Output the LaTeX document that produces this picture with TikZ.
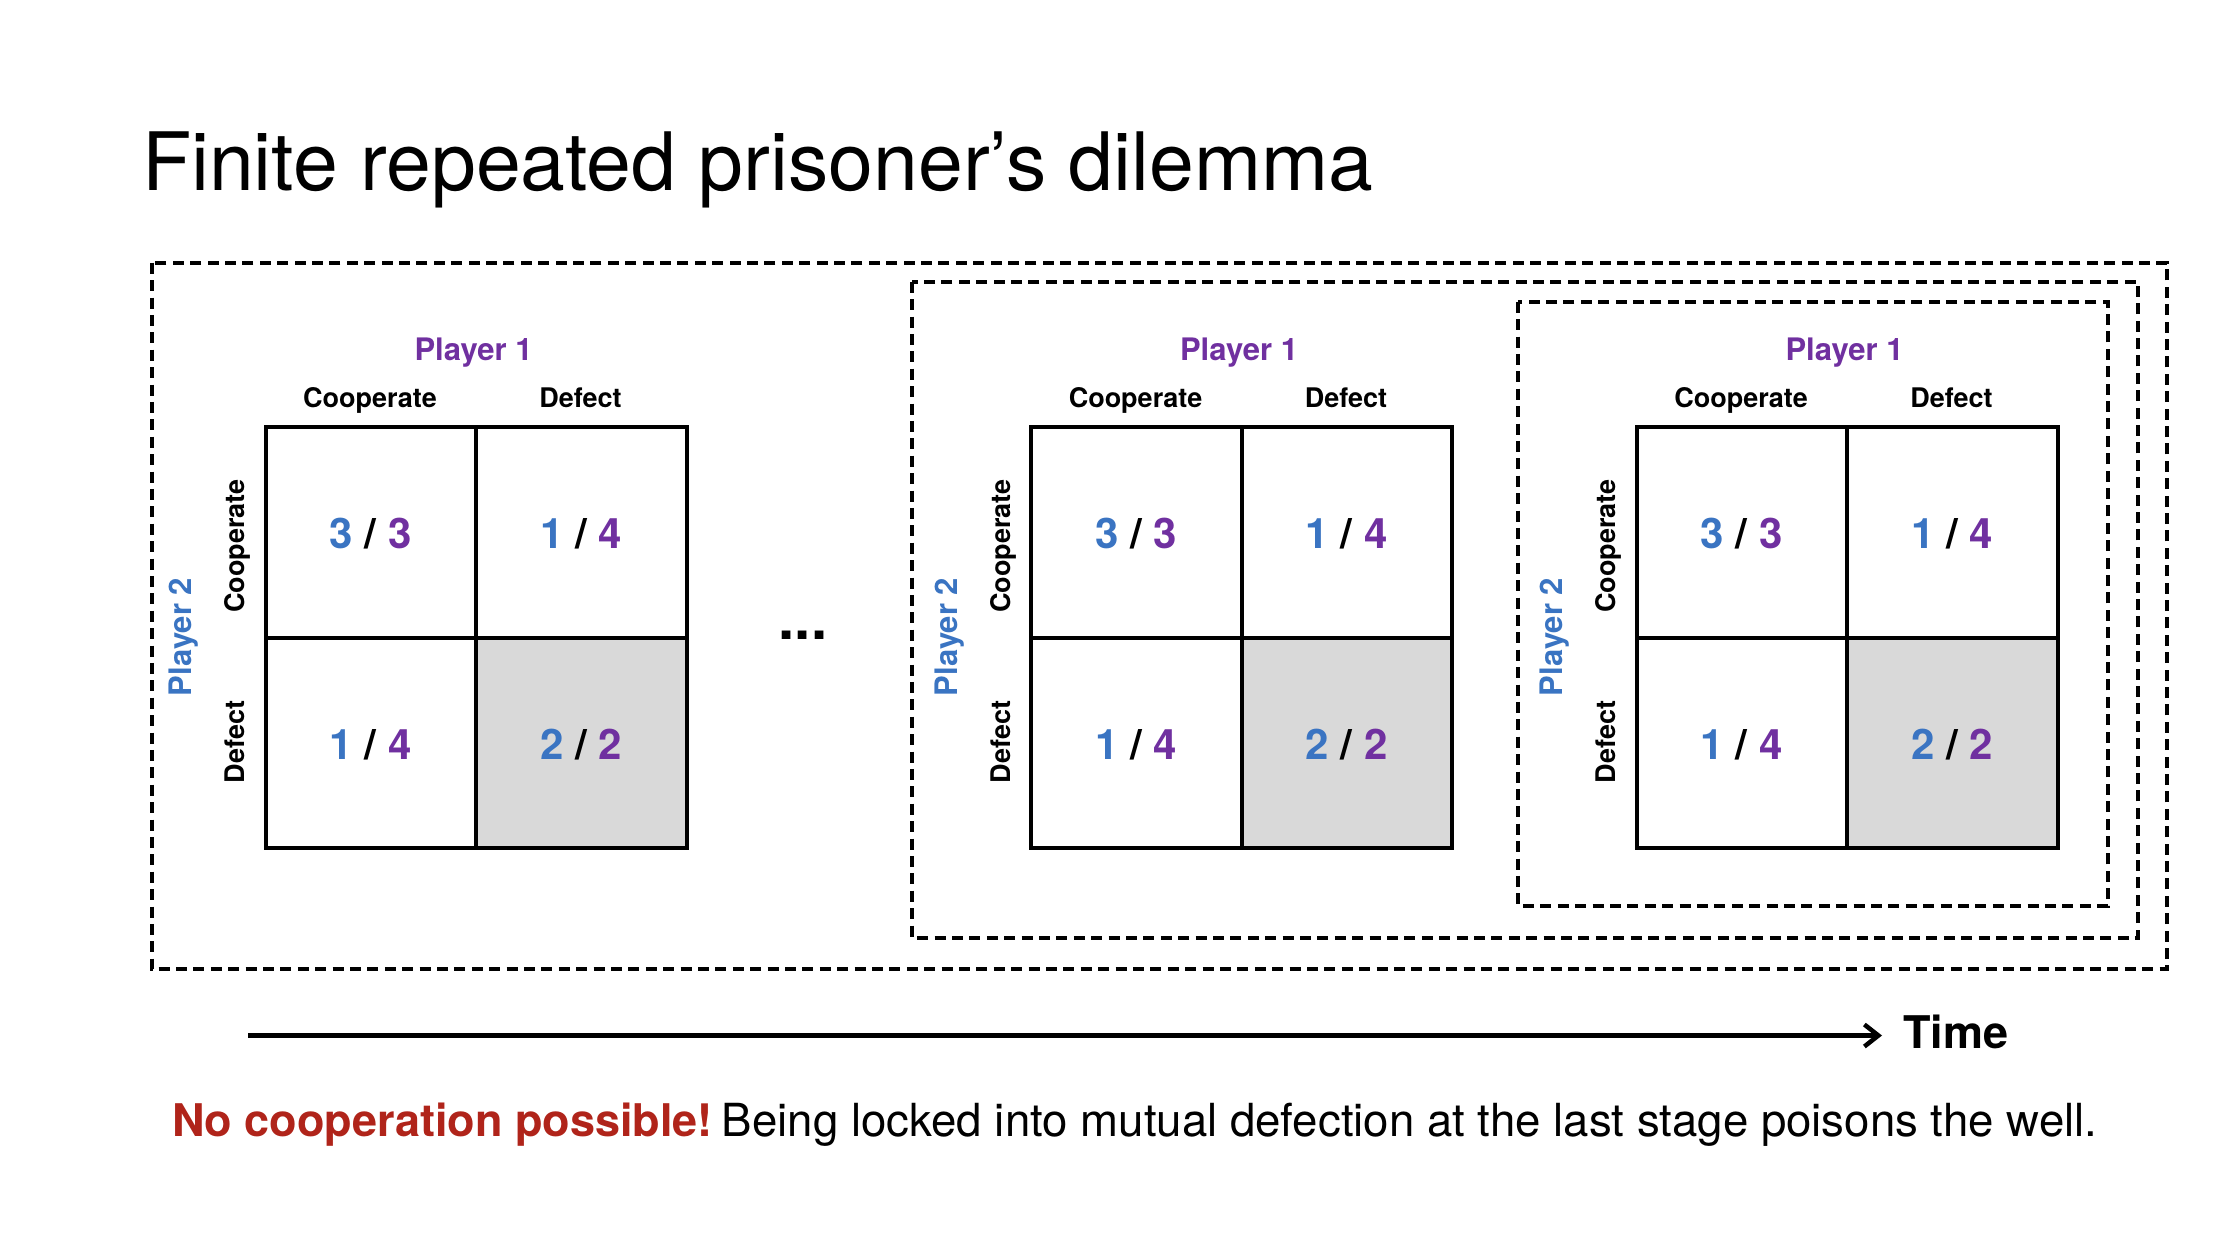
\documentclass[tikz,border=0pt]{standalone}
\usepackage{fontspec}
\setmainfont{TeX Gyre Heros}
\usetikzlibrary{arrows.meta}
\definecolor{pblue}{HTML}{3A74C2}
\definecolor{ppurple}{HTML}{7030A0}
\definecolor{nored}{HTML}{B0241A}
\definecolor{cellgray}{HTML}{D9D9D9}
\begin{document}
\begin{tikzpicture}[x=0.5pt,y=-0.5pt,
  txt/.style={inner sep=0pt, outer sep=0pt},
  dashbox/.style={draw=black, line width=2pt, dash pattern=on 5.5pt off 3.2pt},
  gridline/.style={draw=black, line width=2pt},
  plabel/.style={txt, font=\bfseries\fontsize{15.5}{18}\selectfont},
  alabel/.style={txt, font=\bfseries\fontsize{13.5}{16}\selectfont},
  payoff/.style={txt, font=\bfseries\fontsize{21}{24}\selectfont, anchor=base},
]
\fill[white] (0,0) rectangle (2236,1254);
\useasboundingbox (0,0) rectangle (2236,1254);

% title
\node[txt, anchor=base west, font=\fontsize{40.3}{48}\selectfont] (title) at (142,190) {Finite repeated prisoner’s dilemma};

% dashed stage frames
\draw[dashbox] (151.5,262.7) rectangle (2167,969);
\draw[dashbox] (912,281.7) rectangle (2138,937.7);
\draw[dashbox] (1518,301.7) rectangle (2108,905.7);

% payoff matrices
\foreach \mx/\id in {265.5/a,1031/b,1636.5/c}{
  \begin{scope}[shift={(\mx,0)}]
    \fill[cellgray] (210.5,638) rectangle (421,848);
    \draw[gridline] (0,427) rectangle (421,848);
    \draw[gridline] (210.5,427) -- (210.5,848);
    \draw[gridline] (0,638) -- (421,638);
    \node[plabel, text=ppurple, anchor=base] (p1\id) at (208,360) {Player 1};
    \node[alabel, anchor=base] (c\id) at (104.5,407) {Cooperate};
    \node[alabel, anchor=base] (d\id) at (315,407) {Defect};
    \node[plabel, text=pblue, rotate=90, anchor=base] (p2\id) at (-74,637) {Player 2};
    \node[alabel, rotate=90, anchor=base] (rc\id) at (-21,546) {Cooperate};
    \node[alabel, rotate=90, anchor=base] (rd\id) at (-21,742) {Defect};
    \node[payoff] (cc\id) at (105.25,548) {\textcolor{pblue}{3} / \textcolor{ppurple}{3}};
    \node[payoff] (cd\id) at (315.75,548) {\textcolor{pblue}{1} / \textcolor{ppurple}{4}};
    \node[payoff] (dc\id) at (105.25,759) {\textcolor{pblue}{1} / \textcolor{ppurple}{4}};
    \node[payoff] (dd\id) at (315.75,759) {\textcolor{pblue}{2} / \textcolor{ppurple}{2}};
  \end{scope}
}

% ellipsis
\node[txt, anchor=base, font=\bfseries\fontsize{29}{36}\selectfont] (dots) at (803,639) {...};

% time arrow
\coordinate (ts) at (248,1035.5);
\coordinate (te) at (1882,1035.5);
\draw[line width=2.25pt, -{Straight Barb[length=7pt,width=11pt]}] (ts) -- (te);
\node[txt, anchor=base west, font=\bfseries\fontsize{22.5}{27}\selectfont] (time) at (1903,1048) {Time};

% conclusion
\node[txt, anchor=base west, font=\fontsize{22.8}{27}\selectfont] (concl) at (172,1136.7)
  {\textcolor{nored}{\bfseries\fontsize{22.5}{27}\selectfont No cooperation possible!}\hspace{0.2em}Being locked into mutual defection at the last stage poisons the well.};
\end{tikzpicture}
\end{document}
